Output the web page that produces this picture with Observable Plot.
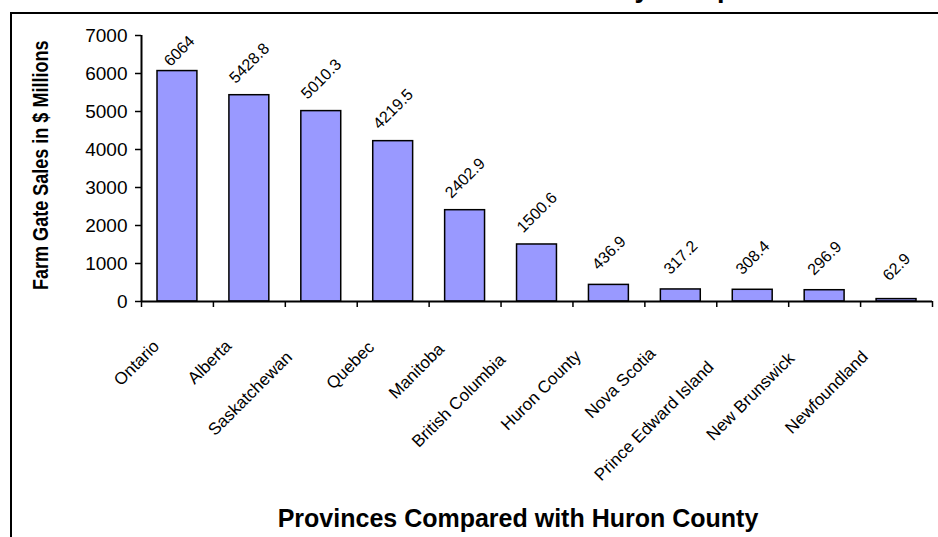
<!DOCTYPE html>
<html>
<head>
<meta charset="utf-8">
<script src="https://cdn.jsdelivr.net/npm/d3@7"></script>
<script src="https://cdn.jsdelivr.net/npm/@observablehq/plot@0.6"></script>
<style>
  html, body { margin: 0; padding: 0; background: #fff; }
  #wrap { position: relative; width: 938px; height: 537px; overflow: hidden; font-family: "Liberation Sans", Arial, sans-serif; }
  #frame { position: absolute; left: 10px; top: 12px; width: 940px; height: 540px; border-left: 2px solid #000; border-top: 2px solid #000; box-sizing: border-box; }
  #plot { position: absolute; left: 0; top: 0; }
  #overlay { position: absolute; left: 0; top: 0; overflow: visible; }
</style>
</head>
<body>
<div id="wrap">
  <div id="frame"></div>
  <div id="plot"></div>
  <svg id="overlay" width="938" height="537"></svg>
</div>
<script>
const categories = ["Ontario", "Alberta", "Saskatchewan", "Quebec", "Manitoba", "British Columbia",
  "Huron County", "Nova Scotia", "Prince Edward Island", "New Brunswick", "Newfoundland"];
const sales = [6064, 5428.8, 5010.3, 4219.5, 2402.9, 1500.6, 436.9, 317.2, 308.4, 296.9, 62.9];
const yTicks = [0, 1000, 2000, 3000, 4000, 5000, 6000, 7000];
const chartTitle = "Farm Gate Sales by Comparison";
const yTitle = "Farm Gate Sales in $ Millions";
const xTitle = "Provinces Compared with Huron County";

const data = categories.map((c, i) => ({category: c, index: i, value: sales[i]}));
const font = "'Liberation Sans', Arial, sans-serif";

const chart = Plot.plot({
  width: 938,
  height: 537,
  marginLeft: 141,
  marginRight: 6,
  marginTop: 35,
  marginBottom: 236,
  x: {domain: [0, categories.length], axis: null},
  y: {domain: [0, 7000], axis: null},
  style: {fontFamily: font, background: "transparent", color: "#000", overflow: "visible"},
  marks: [
    Plot.rectY(data, {x1: "index", x2: d => d.index + 1, y: "value", insetLeft: 16, insetRight: 16,
      fill: "#9999ff", stroke: "#000", strokeWidth: 1.5}),
    Plot.ruleY([0], {stroke: "#000", strokeWidth: 2}),
    Plot.ruleX([0], {stroke: "#000", strokeWidth: 2}),
    Plot.axisY({ticks: yTicks, tickSize: 6, tickPadding: 8, fontSize: 19, strokeWidth: 1.5,
      tickFormat: d => String(d), label: null}),
    Plot.axisX({ticks: d3.range(categories.length + 1), tickSize: 6, strokeWidth: 1.5,
      tickFormat: () => "", label: null}),
    Plot.text(data, {x: d => d.index + 0.5, y: 0, text: "category", rotate: -45, textAnchor: "end",
      dx: -10, dy: 31, fontSize: 17, fill: "#000"}),
    Plot.text(data, {filter: d => d.index > 0, x: d => d.index + 0.5, y: "value", text: d => String(d.value),
      rotate: -45, textAnchor: "middle", dx: 0, dy: -32, fontSize: 16, fill: "#000"}),
    Plot.text(data, {filter: d => d.index === 0, x: d => d.index + 0.5, y: "value", text: d => String(d.value),
      rotate: -45, textAnchor: "middle", dx: 2, dy: -20, fontSize: 16, fill: "#000"})
  ]
});
document.getElementById("plot").append(chart);

// Excel-like placement of rotated category labels: longer labels slide back along their baseline
const catSet = new Set(categories);
d3.select(chart).selectAll("text")
  .filter(function() { return catSet.has(this.textContent); })
  .attr("dx", function() { return -0.28 * this.getComputedTextLength(); });

const ov = d3.select("#overlay");
const defs = ov.append("defs");
defs.append("clipPath").attr("id", "yclip").append("rect")
  .attr("x", 0).attr("y", 41).attr("width", 70).attr("height", 496);
ov.append("text")
  .attr("x", 399).attr("y", -3.5)
  .attr("font-family", font).attr("font-weight", "bold").attr("font-size", 27)
  .text(chartTitle);
ov.append("g").attr("clip-path", "url(#yclip)")
  .append("text")
  .attr("transform", "translate(48,290) rotate(-90) scale(0.82,1)")
  .attr("font-family", font).attr("font-weight", "bold").attr("font-size", 22)
  .text(yTitle);
ov.append("text")
  .attr("x", 518).attr("y", 527).attr("text-anchor", "middle")
  .attr("font-family", font).attr("font-weight", "bold").attr("font-size", 25)
  .text(xTitle);
</script>
</body>
</html>
